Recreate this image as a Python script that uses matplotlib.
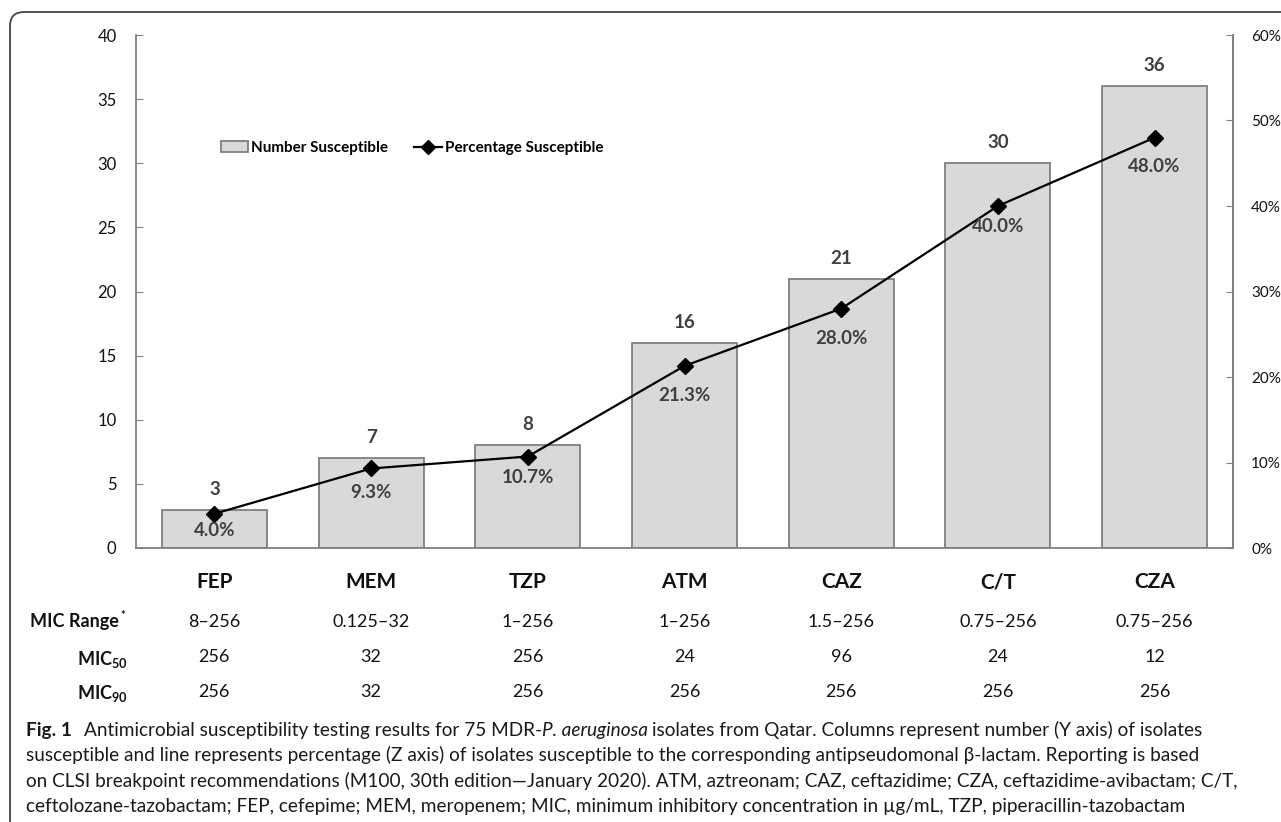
import matplotlib
matplotlib.use("Agg")
import matplotlib.pyplot as plt
from matplotlib.patches import FancyBboxPatch, Patch
from matplotlib.lines import Line2D
from matplotlib.transforms import IdentityTransform, blended_transform_factory
from matplotlib.ticker import FuncFormatter

# ---------------- data ----------------
categories = ["FEP", "MEM", "TZP", "ATM", "CAZ", "C/T", "CZA"]
num_susceptible = [3, 7, 8, 16, 21, 30, 36]
pct_susceptible = [4.0, 9.3, 10.7, 21.3, 28.0, 40.0, 48.0]
mic_range = ["8\u2013256", "0.125\u201332", "1\u2013256", "1\u2013256", "1.5\u2013256", "0.75\u2013256", "0.75\u2013256"]
mic50 = ["256", "32", "256", "24", "96", "24", "12"]
mic90 = ["256", "32", "256", "256", "256", "256", "256"]
y_ticks = [0, 5, 10, 15, 20, 25, 30, 35, 40]
pct_ticks = [0, 10, 20, 30, 40, 50, 60]

# style: per-label offsets (pixels) for percentage labels below markers
pct_label_offsets = [17, 24, 21, 30, 30, 20, 29]

W, H = 1281, 822
DPI = 100
FONT = "Lato"
plt.rcParams["font.family"] = [FONT, "DejaVu Sans"]
plt.rcParams["mathtext.fontset"] = "custom"
plt.rcParams["mathtext.rm"] = "Lato:bold"
plt.rcParams["mathtext.bf"] = "Lato:bold"
plt.rcParams["mathtext.it"] = "Lato:bold"

fig = plt.figure(figsize=(W / DPI, H / DPI), dpi=DPI)

def fx(px):
    return px / W

def fy(py):
    return 1 - py / H

ax_left, ax_right, ax_top, ax_bot = 136, 1233, 35, 548
ax = fig.add_axes([fx(ax_left), fy(ax_bot), fx(ax_right - ax_left), (ax_bot - ax_top) / H])

x = list(range(len(categories)))
bars = ax.bar(x, num_susceptible, width=0.67, color="#d9d9d9", edgecolor="#7f7f7f",
              linewidth=1.3, zorder=2)
ax.set_xlim(-0.5, len(categories) - 0.5)
ax.set_ylim(0, 40)
ax.set_yticks(y_ticks)
ax.set_xticks([])
ax.spines["top"].set_visible(False)
for s in ["left", "bottom", "right"]:
    ax.spines[s].set_color("#808080")
    ax.spines[s].set_linewidth(1.3)
ax.tick_params(axis="y", direction="in", length=5, color="#808080", labelsize=12,
               labelcolor="#111111", pad=14)

for xi, v in zip(x, num_susceptible):
    ax.annotate(str(v), (xi, v), xytext=(0, 12), textcoords="offset pixels",
                ha="center", va="bottom", fontsize=13.5, fontweight="bold", color="#404040")

ax2 = ax.twinx()
ax2.set_ylim(0, 60)
ax2.set_yticks(pct_ticks)
ax2.yaxis.set_major_formatter(FuncFormatter(lambda v, p: f"{int(v)}%"))
for s in ["top", "left", "bottom"]:
    ax2.spines[s].set_visible(False)
ax2.spines["right"].set_color("#808080")
ax2.spines["right"].set_linewidth(1.3)
ax2.tick_params(axis="y", direction="in", length=5, color="#808080", labelsize=11,
                labelcolor="#111111", pad=13)
ax2.plot(x, pct_susceptible, color="black", linewidth=1.6, marker="D", markersize=8,
         markerfacecolor="black", zorder=3)
for xi, v, off in zip(x, pct_susceptible, pct_label_offsets):
    ax2.annotate(f"{v:.1f}%", (xi, v), xytext=(0, -off), textcoords="offset pixels",
                 ha="center", va="center", fontsize=13.5, fontweight="bold", color="#404040")

# legend
handles = [Patch(facecolor="#d9d9d9", edgecolor="#7f7f7f", linewidth=1.3),
           Line2D([0], [0], color="black", linewidth=1.6, marker="D", markersize=7)]
leg = ax2.legend(handles, ["Number Susceptible", "Percentage Susceptible"], ncol=2,
                 loc="center left", bbox_to_anchor=(fx(213), fy(148)),
                 bbox_transform=fig.transFigure, frameon=False,
                 prop={"weight": "bold", "size": 11}, handlelength=1.8, handleheight=0.75,
                 handletextpad=0.2, columnspacing=1.7, borderpad=0)

# category labels & table
tr = blended_transform_factory(ax.transData, fig.transFigure)
for xi, c in enumerate(categories):
    fig.text(xi, fy(582), c, transform=tr, ha="center", va="center", fontsize=15,
             fontweight="bold", color="#111111")
for row, yp in zip([mic_range, mic50, mic90], [622, 657, 692]):
    for xi, val in enumerate(row):
        fig.text(xi, fy(yp), val, transform=tr, ha="center", va="center", fontsize=13,
                 color="#111111")

fig.text(fx(119), fy(622), "MIC Range", ha="right", va="center", fontsize=13,
         fontweight="bold", color="#111111")
fig.text(fx(120), fy(615), "*", ha="left", va="center", fontsize=8,
         fontweight="bold", color="#111111")
fig.text(fx(128), fy(659), r"$\mathbf{MIC}_{\mathbf{50}}$", ha="right", va="center",
         fontsize=13, color="#111111")
fig.text(fx(128), fy(694), r"$\mathbf{MIC}_{\mathbf{90}}$", ha="right", va="center",
         fontsize=13, color="#111111")

# caption
cap_color = "#1a1a1a"
cap_size = 13.7

def chain(prev, s, gap=0, **kw):
    return ax.annotate(
        s, xy=(1, 0), xycoords=prev, xytext=(gap, 0), textcoords="offset pixels",
        ha="left", va="bottom", fontsize=cap_size, color=cap_color,
        annotation_clip=False, **kw)

t = fig.text(fx(26), fy(730), "Fig. 1", ha="left", va="center", fontsize=cap_size,
             fontweight="bold", color=cap_color)
t = chain(t, "Antimicrobial susceptibility testing results for 75 MDR-", gap=12)
t = chain(t, "P. aeruginosa", style="italic")
t = chain(t, "isolates from Qatar. Columns represent number (Y axis) of isolates", gap=4)
cap_lines = [
    "susceptible and line represents percentage (Z axis) of isolates susceptible to the corresponding antipseudomonal \u03b2-lactam. Reporting is based",
    "on CLSI breakpoint recommendations (M100, 30th edition\u2014January 2020). ATM, aztreonam; CAZ, ceftazidime; CZA, ceftazidime-avibactam; C/T,",
    "ceftolozane-tazobactam; FEP, cefepime; MEM, meropenem; MIC, minimum inhibitory concentration in \u00b5g/mL, TZP, piperacillin-tazobactam",
]
for line, yp in zip(cap_lines, [755, 781, 806]):
    fig.text(fx(26), fy(yp), line, ha="left", va="center", fontsize=cap_size, color=cap_color)

# outer rounded frame
frame = FancyBboxPatch((10, -20), 1320, H - 12 + 20, boxstyle="round,pad=0,rounding_size=14",
                       transform=IdentityTransform(), facecolor="none", edgecolor="#444444",
                       linewidth=1.3)
fig.patches.append(frame)

fig.savefig("out.png", dpi=DPI)
